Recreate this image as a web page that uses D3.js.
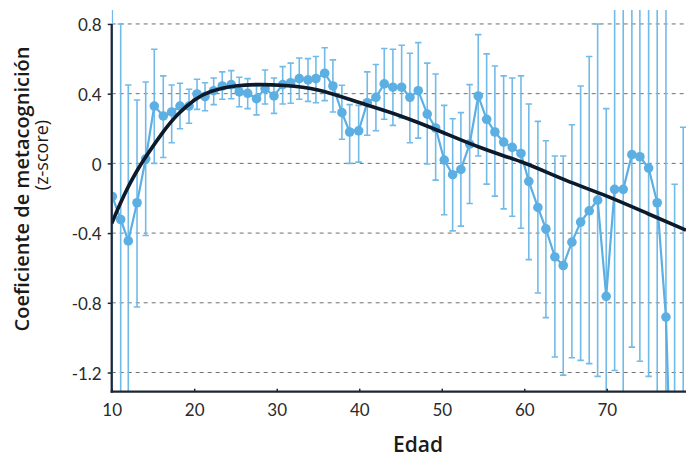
<!DOCTYPE html>
<html><head><meta charset="utf-8">
<script src="https://cdn.jsdelivr.net/npm/d3@7"></script>
<style>
html,body{margin:0;padding:0;background:#fff;}
svg{display:block;}
text{font-family:"Lato","Open Sans",sans-serif;}
.title{font-family:"Open Sans","Lato",sans-serif;}
</style></head>
<body>
<svg id="chart" width="686" height="457"></svg>
<script>
// ---- data ----
const ages = [10.07,11.09,12.01,13.07,14.12,15.16,16.25,17.27,18.28,19.37,20.34,21.31,22.36,23.40,24.49,25.46,26.48,27.55,28.58,29.67,30.72,31.69,32.73,33.79,34.75,35.81,36.81,37.90,38.84,39.93,40.97,42.02,43.03,44.08,45.14,46.14,47.15,48.24,49.26,50.30,51.32,52.32,53.38,54.42,55.44,56.44,57.50,58.54,59.60,60.55,61.65,62.62,63.71,64.72,65.77,66.83,67.87,68.89,69.93,70.95,71.99,73.04,74.01,75.07,76.11,77.17,78.22,79.26];
const meanValues = [-0.19,-0.322,-0.445,-0.226,0.026,0.329,0.272,0.295,0.329,0.329,0.398,0.383,0.417,0.444,0.452,0.41,0.402,0.371,0.429,0.387,0.452,0.463,0.486,0.479,0.486,0.517,0.444,0.291,0.18,0.187,0.348,0.379,0.456,0.437,0.437,0.379,0.417,0.283,0.203,0.019,-0.065,-0.035,0.111,0.387,0.253,0.18,0.122,0.092,0.057,-0.103,-0.253,-0.376,-0.537,-0.586,-0.452,-0.337,-0.272,-0.211,-0.763,-0.149,-0.149,0.05,0.038,-0.027,-0.226,-0.882,-2.5,-2.3];
const upperValues = [1.2,0.80,0.45,0.364,0.467,0.655,0.502,0.45,0.46,0.425,0.483,0.463,0.49,0.525,0.532,0.494,0.486,0.444,0.536,0.49,0.555,0.575,0.605,0.601,0.613,0.663,0.594,0.448,0.337,0.333,0.525,0.567,0.659,0.655,0.678,0.632,0.693,0.575,0.513,0.333,0.256,0.291,0.452,0.739,0.628,0.559,0.502,0.49,0.502,0.341,0.241,0.13,0.042,0.042,0.222,0.444,0.613,0.80,0.314,1.3,1.3,1.3,1.3,1.3,1.3,1.3,-0.12,0.207];
const lowerValues = [-1.6,-1.6,-1.6,-0.824,-0.414,0.0,0.034,0.118,0.199,0.23,0.31,0.302,0.337,0.368,0.371,0.325,0.314,0.278,0.341,0.287,0.341,0.345,0.368,0.356,0.348,0.36,0.295,0.138,0.0,0.007,0.161,0.187,0.253,0.218,0.26,0.118,0.145,-0.004,-0.096,-0.295,-0.387,-0.36,-0.23,0.042,-0.119,-0.188,-0.261,-0.303,-0.372,-0.552,-0.744,-0.885,-1.111,-1.215,-1.115,-1.13,-1.149,-1.222,-1.6,-1.188,-1.6,-1.054,-1.135,-1.222,-1.6,-1.6,-3.5,-3.5];
// fitted trend curve
const fitAges   = [10,11,12,13,14,16,18,20,22,25,28,31,35,40,45,50,55,60,65,70,75,79.6];
const fitValues = [-0.345,-0.235,-0.135,-0.048,0.028,0.165,0.28,0.362,0.412,0.444,0.452,0.447,0.421,0.349,0.272,0.18,0.085,0.002,-0.096,-0.188,-0.289,-0.383];
const yTicks = [0.8,0.4,0,-0.4,-0.8,-1.2];
const yTickLabels = ["0.8","0.4","0","-0.4","-0.8","-1.2"];
const xTicks = [10,20,30,40,50,60,70];
const xTickLabels = ["10","20","30","40","50","60","70"];
const xTitle = "Edad";
const yTitle = "Coeficiente de metacognición";
const ySubTitle = "(z-score)";

// ---- layout ----
const L = 111.7, R = 686, T = 10, B = 391.7;
const svg = d3.select("#chart");
const x = d3.scaleLinear().domain([10, 79.6]).range([L, R]);
const y = d3.scaleLinear().domain([-1.31, 0.88]).range([B, T]);

const dotColor = "#5cafe3", barColor = "#72bbe8", axisColor = "#1c2635";

svg.append("defs").append("clipPath").attr("id","plotclip")
  .append("rect").attr("x", L).attr("y", T).attr("width", R - L).attr("height", B - T);

// gridlines
svg.append("g").selectAll("line").data(yTicks).join("line")
  .attr("x1", L).attr("x2", R)
  .attr("y1", d => y(d)).attr("y2", d => y(d))
  .attr("stroke", "#6f6f6f").attr("stroke-width", 1).attr("stroke-dasharray", "4,4");

const plot = svg.append("g").attr("clip-path", "url(#plotclip)");
const pts = ages.map((a, i) => ({a, v: meanValues[i], hi: upperValues[i], lo: lowerValues[i]}));

// error bars
const eb = plot.append("g").attr("stroke", barColor).attr("stroke-width", 1.6).attr("fill", "none");
eb.selectAll("line.v").data(pts).join("line").attr("class","v")
  .attr("x1", d => x(d.a)).attr("x2", d => x(d.a))
  .attr("y1", d => y(d.hi)).attr("y2", d => y(d.lo));
eb.selectAll("line.h").data(pts).join("line").attr("class","h")
  .attr("x1", d => x(d.a) - 3.2).attr("x2", d => x(d.a) + 3.2)
  .attr("y1", d => y(d.hi)).attr("y2", d => y(d.hi));
eb.selectAll("line.l").data(pts).join("line").attr("class","l")
  .attr("x1", d => x(d.a) - 3.2).attr("x2", d => x(d.a) + 3.2)
  .attr("y1", d => y(d.lo)).attr("y2", d => y(d.lo));

// connecting line
plot.append("path").datum(pts)
  .attr("d", d3.line().x(d => x(d.a)).y(d => y(d.v)))
  .attr("fill", "none").attr("stroke", dotColor).attr("stroke-width", 2.2);

// dots
plot.append("g").selectAll("circle").data(pts).join("circle")
  .attr("cx", d => x(d.a)).attr("cy", d => y(d.v)).attr("r", 4.8)
  .attr("fill", dotColor);

// fitted curve
plot.append("path").datum(fitAges.map((a, i) => [a, fitValues[i]]))
  .attr("d", d3.line().x(d => x(d[0])).y(d => y(d[1])).curve(d3.curveNatural))
  .attr("fill", "none").attr("stroke", "#0c1a2b").attr("stroke-width", 3.6);

// y axis
const yAxis = d3.axisLeft(y).tickValues(yTicks).tickSize(4).tickPadding(7)
  .tickFormat((d, i) => yTickLabels[i]);
const gy = svg.append("g").attr("transform", `translate(${L},0)`).call(yAxis);
gy.select(".domain").remove();
gy.selectAll(".tick line").attr("stroke", axisColor).attr("stroke-width", 1.5);
gy.selectAll(".tick text").attr("font-size", 17).attr("fill", "#2a2a2a")
  .attr("x", -10).attr("dy", "0.4em");
svg.append("line").attr("x1", L).attr("x2", L).attr("y1", y(0.8)).attr("y2", B + 1)
  .attr("stroke", axisColor).attr("stroke-width", 2.2);

// x axis
const xAxis = d3.axisBottom(x).tickValues(xTicks).tickSizeInner(-3).tickSizeOuter(0)
  .tickFormat((d, i) => xTickLabels[i]);
const gx = svg.append("g").attr("transform", `translate(0,${B})`).call(xAxis);
gx.select(".domain").remove();
gx.selectAll(".tick line").attr("stroke", axisColor).attr("stroke-width", 1.5);
gx.selectAll(".tick text").attr("font-size", 17).attr("fill", "#2a2a2a")
  .attr("y", 24).attr("dy", 0);
svg.append("line").attr("x1", L - 1).attr("x2", R).attr("y1", B).attr("y2", B)
  .attr("stroke", axisColor).attr("stroke-width", 2.2);

// titles
svg.append("text").attr("class","title").attr("x", 418).attr("y", 452).attr("text-anchor", "middle")
  .attr("font-size", 21).attr("font-weight", 600).attr("fill", "#1a1a1a").text(xTitle);
svg.append("text").attr("class","title").attr("transform", "translate(29,189) rotate(-90)").attr("text-anchor", "middle")
  .attr("font-size", 20).attr("font-weight", 600).attr("fill", "#1a1a1a").text(yTitle);
svg.append("text").attr("class","title").attr("transform", "translate(48,155) rotate(-90)").attr("text-anchor", "middle")
  .attr("font-size", 18).attr("font-weight", 400).attr("fill", "#1a1a1a").text(ySubTitle);
</script>
</body></html>
